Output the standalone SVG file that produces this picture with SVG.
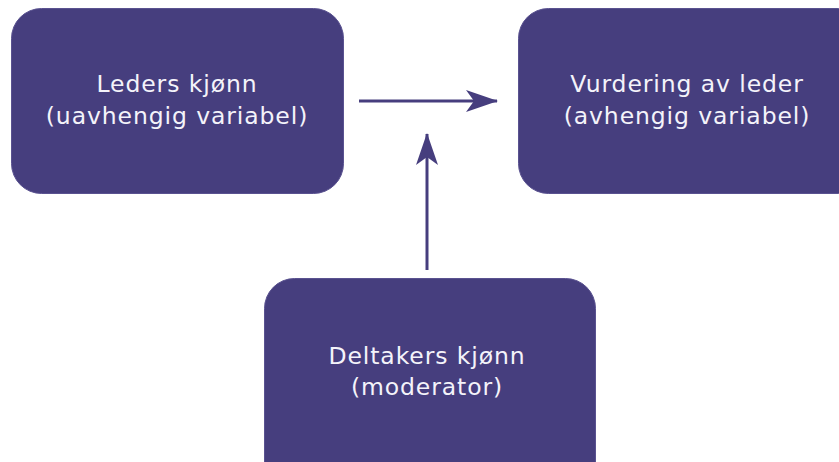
<svg xmlns="http://www.w3.org/2000/svg" width="839" height="462" viewBox="0 0 839 462">
<style>
.box{fill:#463e7e;stroke:#5a5290;stroke-width:1}
.t{font-family:"DejaVu Sans",sans-serif;font-weight:normal;font-size:23.5px;letter-spacing:0.9px;fill:#f4f3fa;text-anchor:middle}
.c{stroke:#463e7e;stroke-width:3;fill:none}
</style>
<defs>
<marker id="ah" viewBox="0 0 32 22" refX="31" refY="11" markerWidth="32" markerHeight="22" markerUnits="userSpaceOnUse" orient="auto">
<path d="M0,0 L32,11 L0,22 L8,11 Z" fill="#463e7e"/>
</marker>
</defs>
<g id="leder">
<rect class="box" x="11.5" y="8.5" width="332" height="185" rx="30"/>
<text class="t" x="177" y="92">Leders kjønn</text>
<text class="t" x="177" y="124">(uavhengig variabel)</text>
</g>
<g id="vurdering">
<rect class="box" x="518.5" y="8.5" width="350" height="185" rx="30"/>
<text class="t" x="687" y="92">Vurdering av leder</text>
<text class="t" x="687" y="124">(avhengig variabel)</text>
</g>
<g id="deltaker">
<rect class="box" x="264.5" y="278.5" width="331" height="215" rx="30"/>
<text class="t" x="427" y="364">Deltakers kjønn</text>
<text class="t" x="427" y="395">(moderator)</text>
</g>
<g id="connectors">
<line class="c" x1="359" y1="101" x2="497" y2="101" marker-end="url(#ah)"/>
<line class="c" x1="427" y1="270" x2="427" y2="134" marker-end="url(#ah)"/>
</g>
</svg>
